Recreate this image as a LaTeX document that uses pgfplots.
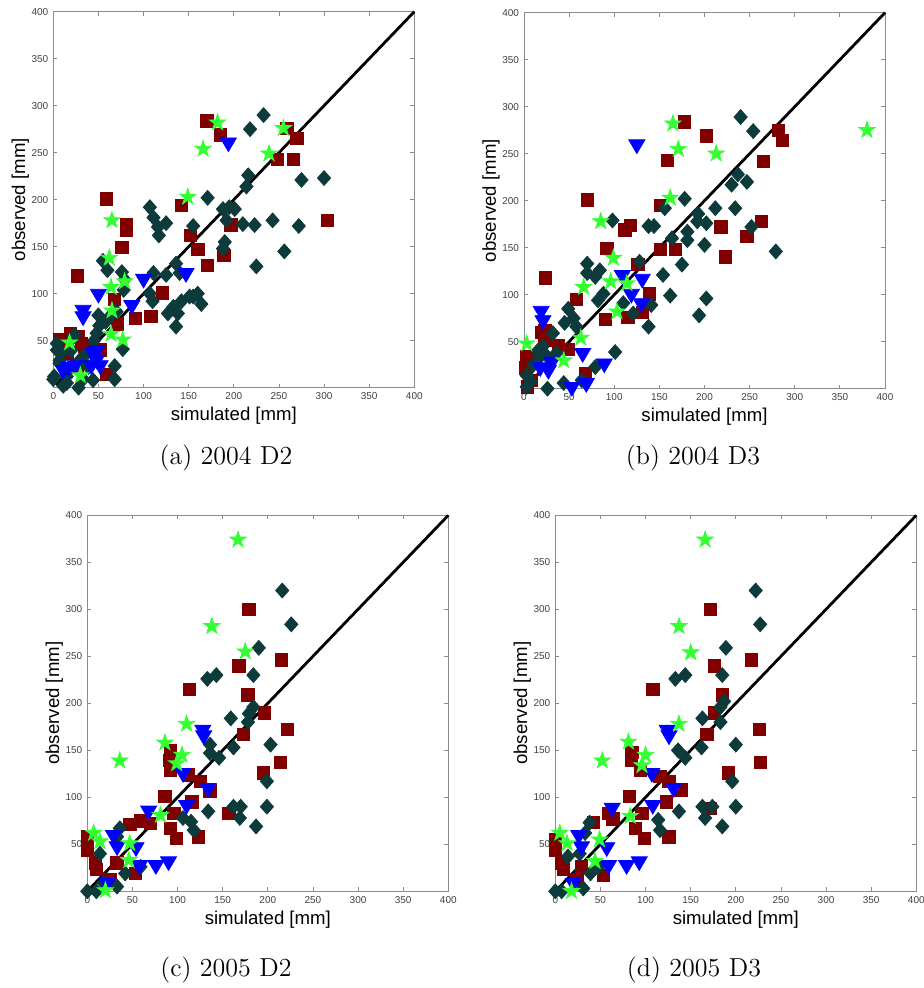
\documentclass[border=0pt]{standalone}
\usepackage{fontspec}
\usepackage{pgfplots}
\pgfplotsset{compat=1.18}
\newfontfamily\arial{Liberation Sans}
\definecolor{cSq}{HTML}{800000}
\definecolor{cDm}{HTML}{0D3B3B}
\definecolor{cTr}{HTML}{0000FF}
\definecolor{cSt}{HTML}{33FF33}
\definecolor{cAx}{HTML}{8C8C8C}
\definecolor{cTk}{HTML}{404040}

% matlab-like filled markers
\pgfdeclareplotmark{mdia}{%
  \pgfpathmoveto{\pgfpoint{0pt}{1.12\pgfplotmarksize}}%
  \pgfpathlineto{\pgfpoint{\pgfplotmarksize}{0pt}}%
  \pgfpathlineto{\pgfpoint{0pt}{-1.12\pgfplotmarksize}}%
  \pgfpathlineto{\pgfpoint{-\pgfplotmarksize}{0pt}}%
  \pgfpathclose\pgfusepathqfillstroke}
\pgfdeclareplotmark{mtri}{%
  \pgfpathmoveto{\pgfpoint{-\pgfplotmarksize}{0.55\pgfplotmarksize}}%
  \pgfpathlineto{\pgfpoint{\pgfplotmarksize}{0.55\pgfplotmarksize}}%
  \pgfpathlineto{\pgfpoint{0pt}{-1.15\pgfplotmarksize}}%
  \pgfpathclose\pgfusepathqfillstroke}
\pgfdeclareplotmark{mstar}{%
  \pgfpathmoveto{\pgfpointpolar{90}{\pgfplotmarksize}}%
  \pgfpathlineto{\pgfpointpolar{126}{0.382\pgfplotmarksize}}%
  \pgfpathlineto{\pgfpointpolar{162}{\pgfplotmarksize}}%
  \pgfpathlineto{\pgfpointpolar{198}{0.382\pgfplotmarksize}}%
  \pgfpathlineto{\pgfpointpolar{234}{\pgfplotmarksize}}%
  \pgfpathlineto{\pgfpointpolar{270}{0.382\pgfplotmarksize}}%
  \pgfpathlineto{\pgfpointpolar{306}{\pgfplotmarksize}}%
  \pgfpathlineto{\pgfpointpolar{342}{0.382\pgfplotmarksize}}%
  \pgfpathlineto{\pgfpointpolar{18}{\pgfplotmarksize}}%
  \pgfpathlineto{\pgfpointpolar{54}{0.382\pgfplotmarksize}}%
  \pgfpathclose\pgfusepathqfillstroke}

\pgfplotsset{
  panel/.style={scale only axis,width=180.5pt,height=188pt,
    xmin=0,xmax=400,ymin=0,ymax=400,clip=false,
    xtick={0,50,...,400},ytick={50,100,...,400},
    tick align=inside,major tick length=2pt,
    axis line style={cAx,line width=0.4pt},tick style={cAx,line width=0.4pt},
    /pgf/number format/assume math mode=true,
    ticklabel style={font=\arial\fontsize{5}{6}\selectfont,text=cTk},
    xticklabel style={yshift=1pt},
    yticklabel style={xshift=1pt},
    xlabel={simulated [mm]},ylabel={observed [mm]},
    label style={font=\arial\fontsize{9.3}{11}\selectfont},
    xlabel style={at={(axis description cs:0.5,0)},anchor=center,yshift=-14pt},
    ylabel style={at={(axis description cs:0,0.5)},anchor=center,yshift=16.5pt}},
  sq/.style={only marks,mark=square*,mark size=3.1pt,color=cSq},
  dm/.style={only marks,mark=mdia,mark size=3.3pt,color=cDm},
  tr/.style={only marks,mark=mtri,mark size=4pt,color=cTr},
  st/.style={only marks,mark=mstar,mark size=4.3pt,color=cSt},
  one/.style={black,line width=1.4pt,mark=none}}

\begin{document}
\begin{tikzpicture}
\useasboundingbox (0,0) rectangle (461.5pt,494pt);

% (a) 2004 D2
\begin{axis}[panel,at={(26.65pt,300.15pt)},anchor=south west]
\addplot[sq] coordinates {(170,284)(185,269)(259,276)(270,265)(248,243)(266,243)
 (304,178)(59,201)(142,194)(81,174)(81,168)(197,173)(152,162)(76,149)(160,147)
 (189,141)(171,130)(27,119)(121,101)(68,94)(91,74)(108,76)(71,68)(19,58)(7,51)
 (28,54)(31,47)(35,44)(39,44)(52,40)(59,14)(15,37)(26,22)};
\addplot[dm] coordinates {(233,290)(218,275)(216,226)(214,214)(275,221)(300,223)
 (171,202)(107,192)(111,181)(116,171)(125,175)(117,162)(155,172)(188,190)(195,192)
 (201,190)(192,178)(210,174)(223,173)(243,178)(272,172)(190,155)(188,148)(256,145)
 (225,129)(136,132)(140,122)(111,122)(125,120)(55,135)(60,125)(76,123)(79,115)
 (78,104)(107,100)(110,92)(127,79)(138,79)(136,65)(142,92)(155,97)(160,100)(164,89)
 (133,86)(151,97)(70,81)(50,77)(51,66)(48,58)(58,70)(62,75)(77,41)(68,23)(68,9)
 (33,9)(44,8)(4,47)(7,29)(15,19)(0,9)(11,2)(28,0)(20,40)(24,56)(9,37)(15,12)
 (39,22)(42,37)(4,40)(7,26)(1,12)(15,5)(22,54)(30,30)(35,35)(45,50)};
\addplot[tr] coordinates {(194,261)(147,122)(100,116)(50,100)(33,83)(33,76)(87,88)
 (48,40)(48,30)(52,24)(42,24)(24,24)(17,22)(11,19)(44,37)};
\addplot[st] coordinates {(182,282)(255,276)(166,254)(239,249)(149,203)(65,178)
 (62,138)(79,113)(64,107)(65,82)(64,57)(77,51)(18,48)(30,13)};
\addplot[one] coordinates {(3,3)(400,400)};
\end{axis}

% (b) 2004 D3
\begin{axis}[panel,at={(262pt,299.65pt)},anchor=south west]
\addplot[sq] coordinates {(178,284)(202,269)(282,275)(286,264)(159,243)(265,242)
 (263,178)(247,162)(218,172)(223,140)(70,201)(151,195)(118,174)(112,169)(92,149)
 (151,148)(168,148)(126,132)(24,118)(139,101)(58,95)(90,74)(115,76)(131,81)(23,62)
 (20,60)(38,46)(49,42)(3,34)(2,22)(8,9)(68,16)(23,52)(4,2)};
\addplot[dm] coordinates {(240,289)(254,274)(237,228)(247,220)(230,217)(252,172)
 (279,146)(212,192)(234,192)(202,176)(192,178)(193,186)(200,153)(181,167)(181,158)
 (178,202)(156,192)(164,160)(138,173)(144,173)(98,179)(175,132)(154,121)(162,99)
 (202,96)(194,78)(128,135)(70,133)(70,123)(79,119)(84,126)(82,94)(88,101)(110,91)
 (121,80)(138,66)(141,89)(49,85)(55,75)(58,66)(101,39)(79,23)(64,9)(44,6)(26,0)
 (3,14)(14,30)(21,45)(32,59)(3,2)(36,38)(10,25)(15,40)(25,35)(45,70)(8,8)};
\addplot[tr] coordinates {(125,260)(109,121)(131,117)(119,101)(130,91)(19,83)
 (21,73)(65,38)(89,27)(69,6)(18,23)(31,29)(27,20)(53,2)};
\addplot[st] coordinates {(165,282)(171,255)(213,250)(380,275)(162,203)(85,178)
 (99,139)(96,114)(66,108)(103,82)(63,54)(3,48)(44,30)(114,112)};
\addplot[one] coordinates {(3,3)(400,400)};
\end{axis}

% (c) 2005 D2
\begin{axis}[panel,at={(43.65pt,48.35pt)},anchor=south west]
\addplot[sq] coordinates {(179,300)(168,240)(215,246)(113,215)(178,209)(196,190)
 (173,167)(222,172)(214,137)(195,126)(92,150)(91,139)(92,129)(112,124)(125,117)
 (136,107)(116,95)(86,101)(96,83)(92,67)(99,56)(123,58)(157,83)(70,72)(59,75)
 (47,71)(0,58)(0,44)(9,30)(10,23)(33,30)(53,19)(25,12)};
\addplot[dm] coordinates {(216,320)(226,284)(190,259)(133,226)(143,230)(184,230)
 (184,196)(179,189)(178,180)(159,184)(162,153)(203,156)(136,156)(136,147)(146,142)
 (199,117)(199,90)(170,90)(162,90)(169,78)(187,69)(134,85)(106,78)(115,74)(118,65)
 (36,67)(33,58)(59,26)(42,19)(33,5)(0,0)(10,0)(14,40)(18,9)};
\addplot[tr] coordinates {(128,172)(129,166)(106,126)(134,110)(110,92)(68,86)
 (29,60)(33,48)(54,47)(58,28)(76,28)(90,32)(22,9)};
\addplot[st] coordinates {(167,374)(138,282)(175,255)(110,178)(86,158)(105,145)
 (99,136)(36,139)(81,81)(7,62)(14,53)(47,51)(46,33)(20,1)};
\addplot[one] coordinates {(3,3)(400,400)};
\end{axis}

% (d) 2005 D3
\begin{axis}[panel,at={(277.65pt,48.35pt)},anchor=south west]
\addplot[sq] coordinates {(172,300)(176,240)(217,246)(108,215)(185,209)(176,190)
 (168,167)(226,172)(227,137)(192,126)(85,148)(84,139)(94,129)(116,122)(126,117)
 (139,108)(123,95)(82,101)(96,83)(89,67)(99,56)(126,58)(172,88)(64,77)(59,83)
 (42,73)(0,55)(0,44)(7,30)(9,23)(29,26)(53,17)(24,12)};
\addplot[dm] coordinates {(222,320)(227,284)(189,259)(133,226)(144,230)(185,230)
 (183,196)(187,202)(183,180)(163,184)(162,153)(200,156)(136,150)(144,142)(196,117)
 (200,90)(174,90)(163,90)(166,78)(185,69)(137,85)(114,76)(116,65)(38,73)(33,62)
 (48,26)(39,19)(31,3)(0,0)(7,0)(14,37)(27,40)};
\addplot[tr] coordinates {(124,172)(126,166)(107,126)(131,110)(108,92)(63,89)
 (26,60)(29,48)(57,47)(59,28)(79,28)(93,32)(20,9)};
\addplot[st] coordinates {(166,374)(137,282)(150,254)(137,178)(81,159)(100,145)
 (96,134)(52,139)(83,80)(5,62)(13,51)(49,55)(44,32)(18,0)};
\addplot[one] coordinates {(3,3)(400,400)};
\end{axis}

\node[font=\fontsize{13}{15}\selectfont] at (113pt,265pt) {(a) 2004 D2};
\node[font=\fontsize{13}{15}\selectfont] at (346.5pt,265pt) {(b) 2004 D3};
\node[font=\fontsize{13}{15}\selectfont] at (113pt,9pt) {(c) 2005 D2};
\node[font=\fontsize{13}{15}\selectfont] at (347pt,9pt) {(d) 2005 D3};
\end{tikzpicture}
\end{document}
